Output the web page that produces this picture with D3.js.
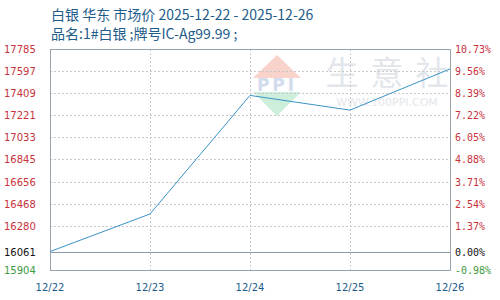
<!DOCTYPE html>
<html>
  <head>
    <meta charset="utf-8" />
    <title>白银 华东 市场价</title>
    <script src="https://d3js.org/d3.v7.min.js"></script>
    <style>
        body {
            margin:0;
            background:#fff;
        }
    </style>
  </head>
  <body>
    <svg id="viz"></svg>

    <script>
        // data
        var dates = ["12/22", "12/23", "12/24", "12/25", "12/26"];
        var prices = [16061, 16381, 17390, 17265, 17615];
        var leftTicks = [17785, 17597, 17409, 17221, 17033, 16845, 16656, 16468, 16280, 16061, 15904];
        var rightTicks = ["10.73%", "9.56%", "8.39%", "7.22%", "6.05%", "4.88%", "3.71%", "2.54%", "1.37%", "0.00%", "-0.98%"];
        var baseValue = 16061;

        var width = 500, height = 300;
        // note: "top" is taken by window.top, so use plot* names
        var plotLeft = 50, plotRight = 450, plotTop = 49, plotBottom = 270;

        var svg = d3.select("#viz")
          .attr("width", width)
          .attr("height", height);

        var x = d3.scalePoint().domain(dates).range([plotLeft, plotRight]);
        var y = d3.scaleLinear().domain([15904, 17785]).range([plotBottom, plotTop]);

        // title
        svg.append("text")
          .attr("x", 51).attr("y", 20)
          .attr("font-family", "Noto Sans CJK SC")
          .attr("font-size", 14)
          .attr("fill", "#1e5c8a")
          .text("白银 华东 市场价 2025-12-22 - 2025-12-26");
        svg.append("text")
          .attr("x", 51).attr("y", 39)
          .attr("font-family", "Noto Sans CJK SC")
          .attr("font-size", 14)
          .attr("fill", "#1e5c8a")
          .text("品名:1#白银 ;牌号IC-Ag99.99 ;");

        // watermark
        var wm = svg.append("g");
        wm.append("path")
          .attr("d", "M277,55 L301,78 L253,78 Z")
          .attr("fill", "#f8d3cc");
        wm.append("path")
          .attr("d", "M253,92 L301,92 L277,116 Z")
          .attr("fill", "#cdeedb");
        wm.append("text")
          .attr("x", 277).attr("y", 91)
          .attr("text-anchor", "middle")
          .attr("font-family", "DejaVu Sans")
          .attr("font-weight", "bold")
          .attr("font-size", 17)
          .attr("letter-spacing", 3)
          .attr("fill", "#d3dcec")
          .text("PPI");
        wm.selectAll("text.cn")
          .data(["生", "意", "社"])
          .enter().append("text")
          .attr("class", "cn")
          .attr("x", function (d, i) { return 342 + i * 45; })
          .attr("y", 85)
          .attr("text-anchor", "middle")
          .attr("font-family", "Noto Sans CJK SC")
          .attr("font-size", 33)
          .attr("fill", "#e3e6eb")
          .text(function (d) { return d; });
        wm.append("text")
          .attr("x", 387).attr("y", 106)
          .attr("text-anchor", "middle")
          .attr("font-family", "DejaVu Sans")
          .attr("font-size", 11)
          .attr("fill", "#e3e6eb")
          .text("WWW.100PPI.COM");

        // grid
        var grid = svg.append("g");
        grid.selectAll("line.h")
          .data(leftTicks.filter(function (d) { return d !== baseValue; }))
          .enter().append("line")
          .attr("x1", plotLeft).attr("x2", plotRight)
          .attr("y1", function (d) { return Math.round(y(d)) + 0.5; })
          .attr("y2", function (d) { return Math.round(y(d)) + 0.5; })
          .attr("stroke", "#c8c8c8")
          .attr("stroke-dasharray", "2,2");
        grid.selectAll("line.v")
          .data(dates.slice(1, -1))
          .enter().append("line")
          .attr("x1", function (d) { return x(d) + 0.5; })
          .attr("x2", function (d) { return x(d) + 0.5; })
          .attr("y1", plotTop).attr("y2", plotBottom)
          .attr("stroke", "#c8c8c8")
          .attr("stroke-dasharray", "2,2");
        grid.append("line")
          .attr("x1", plotLeft).attr("x2", plotRight)
          .attr("y1", Math.round(y(baseValue)) + 0.5)
          .attr("y2", Math.round(y(baseValue)) + 0.5)
          .attr("stroke", "#8a9aa8");

        svg.append("rect")
          .attr("x", plotLeft + 0.5).attr("y", plotTop + 0.5)
          .attr("width", plotRight - plotLeft).attr("height", plotBottom - plotTop)
          .attr("fill", "none")
          .attr("stroke", "#9aa4ac");

        // line
        var line = d3.line()
          .x(function (d, i) { return x(dates[i]); })
          .y(function (d) { return y(d); });
        svg.append("path")
          .datum(prices)
          .attr("d", line)
          .attr("fill", "none")
          .attr("stroke", "#3a93c8")
          .attr("stroke-width", 1);

        function tickColor(v) {
            if (v === baseValue) return "#111";
            if (v < baseValue) return "#3c9a3c";
            return "#c8323c";
        }

        // left axis labels
        svg.append("g").selectAll("text")
          .data(leftTicks)
          .enter().append("text")
          .attr("x", 4)
          .attr("y", function (d) { return y(d) + 4; })
          .attr("font-family", "DejaVu Sans")
          .attr("font-size", 10)
          .attr("fill", tickColor)
          .text(function (d) { return d; });

        // right axis labels
        svg.append("g").selectAll("text")
          .data(leftTicks)
          .enter().append("text")
          .attr("x", 455)
          .attr("y", function (d) { return y(d) + 4; })
          .attr("font-family", "DejaVu Sans Mono")
          .attr("font-size", 10)
          .attr("fill", tickColor)
          .text(function (d, i) { return rightTicks[i]; });

        // x axis labels
        svg.append("g").selectAll("text")
          .data(dates)
          .enter().append("text")
          .attr("x", function (d) { return x(d); })
          .attr("y", 291)
          .attr("text-anchor", "middle")
          .attr("font-family", "DejaVu Sans")
          .attr("font-size", 10)
          .attr("fill", "#1e5c8a")
          .text(function (d) { return d; });
    </script>
  </body>
</html>
